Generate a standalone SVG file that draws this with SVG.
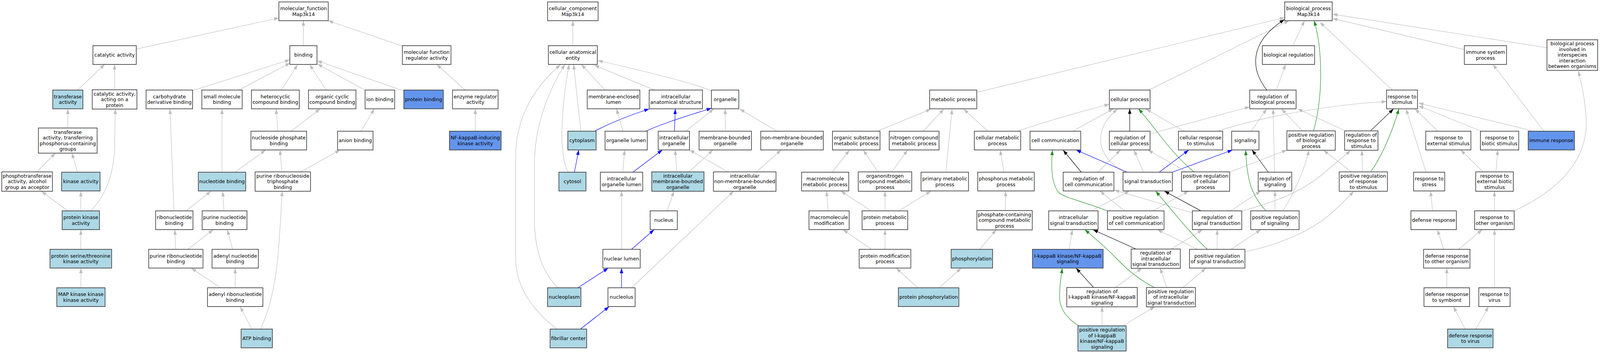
<svg xmlns="http://www.w3.org/2000/svg" width="4245" height="904" viewBox="0 0 4245 904">
<style>
.node rect{fill:#fff;stroke:#333;stroke-width:1.6}
.node.lb rect{fill:#add8e6}
.node.cb rect{fill:#6495ed}
.node text{font-family:"DejaVu Sans","Liberation Sans",sans-serif;font-size:13px;text-anchor:middle;fill:#000}
.e path{fill:none;stroke-width:1.2}
.e .g{stroke:#bebebe;marker-end:url(#ag)}
.e .k{stroke:#000;marker-end:url(#ak)}
.e .b{stroke:#0000ff;marker-end:url(#ab)}
.e .gr{stroke:#228b22;marker-end:url(#agr)}
</style>
<defs>
<marker id="ag" markerUnits="userSpaceOnUse" markerWidth="13" markerHeight="9" refX="13" refY="4.5" orient="auto"><path d="M0,0 L13,4.5 L0,9 z" fill="#bebebe"/></marker>
<marker id="ak" markerUnits="userSpaceOnUse" markerWidth="13" markerHeight="9" refX="13" refY="4.5" orient="auto"><path d="M0,0 L13,4.5 L0,9 z" fill="#000"/></marker>
<marker id="ab" markerUnits="userSpaceOnUse" markerWidth="13" markerHeight="9" refX="13" refY="4.5" orient="auto"><path d="M0,0 L13,4.5 L0,9 z" fill="#0000ff"/></marker>
<marker id="agr" markerUnits="userSpaceOnUse" markerWidth="13" markerHeight="9" refX="13" refY="4.5" orient="auto"><path d="M0,0 L13,4.5 L0,9 z" fill="#228b22"/></marker>
</defs>
<rect x="0" y="0" width="4245" height="904" fill="#fff"/>
<g id="diagram" transform="scale(0.9649,1)">
<g id="connectors" class="e">
<path class="g" d="M361.4,125.7 L740,46"/>
<path class="g" d="M805,117 L805,53"/>
<path class="g" d="M1067.3,118 L871,53"/>
<path class="g" d="M205.7,230.6 L277.8,165"/>
<path class="g" d="M304,230 L304,165"/>
<path class="g" d="M511,232 L769,153"/>
<path class="g" d="M633.7,230.6 L770,161"/>
<path class="g" d="M746,231 L789.5,166"/>
<path class="g" d="M865.3,231 L821.7,165.5"/>
<path class="g" d="M968.6,231 L842.3,164"/>
<path class="g" d="M1071.5,233 L841.4,155.7"/>
<path class="g" d="M1234,231 L1159,165"/>
<path class="g" d="M180,327.5 L180,279"/>
<path class="g" d="M737.7,336 L732.5,279"/>
<path class="g" d="M772.1,336 L849.2,279"/>
<path class="g" d="M957.6,336 L993,279"/>
<path class="g" d="M1261,336 L1261,279"/>
<path class="g" d="M97.3,441 L146.9,392"/>
<path class="g" d="M205.7,441 L190.6,392"/>
<path class="g" d="M589,441 L589,279"/>
<path class="g" d="M623.6,441 L704.8,384"/>
<path class="g" d="M748.2,441 L742.7,384"/>
<path class="g" d="M796.4,441 L902,384"/>
<path class="g" d="M180,540 L110.2,490"/>
<path class="g" d="M214.4,540 L214.4,490"/>
<path class="g" d="M241,540 C275,505 300,460 304,380 L306,279"/>
<path class="g" d="M461.5,540 L451,279"/>
<path class="g" d="M493.6,540 L559.3,490"/>
<path class="g" d="M594.2,540 L591,490"/>
<path class="g" d="M214.4,638.5 L214.4,588.3"/>
<path class="g" d="M466,638.5 L464,588.3"/>
<path class="g" d="M498.2,638.5 L565.7,588.3"/>
<path class="g" d="M617.2,638.5 L603.3,588.3"/>
<path class="g" d="M214.7,737 L214.7,686.7"/>
<path class="g" d="M585.5,737 L507.4,686.7"/>
<path class="g" d="M624,737 L624,686.7"/>
<path class="g" d="M668.3,842.7 L637.3,785.5"/>
<path class="g" d="M691,842.7 C712,800 730,740 738,650 C742,600 746,540 748.5,489.5"/>
<path class="g" d="M1519.8,117 L1519.8,53"/>
<path class="g" d="M1605.3,230.6 L1542.3,165"/>
<path class="g" d="M1736.6,230.6 L1576.8,167"/>
<path class="g" d="M1887.6,233.5 C1850,215 1700,180 1586,155"/>
<path class="g" d="M1541.4,336 L1521.7,165"/>
<path class="g" d="M1508,441 C1482,400 1488,280 1510,165"/>
<path class="g" d="M1480.4,737 C1430,690 1418,620 1418,560 L1418,420 C1418,330 1450,240 1498.7,165"/>
<path class="g" d="M1478,842.7 C1420,800 1368,740 1368,660 L1368,400 C1368,300 1420,220 1487,166"/>
<path class="b" d="M1524,441 L1535.5,384"/>
<path class="b" d="M1579,335 C1620,315 1670,295 1722.3,279"/>
<path class="g" d="M1653,336 L1635.6,279"/>
<path class="b" d="M1713.6,336 C1760,315 1830,295 1887.6,277"/>
<path class="b" d="M1789.4,336 L1791.7,279"/>
<path class="g" d="M1819.2,336 L1893.6,279"/>
<path class="g" d="M1924.2,336 L1924.2,279"/>
<path class="g" d="M2061.2,336 L1962.5,279"/>
<path class="g" d="M1652.5,441 L1657,384"/>
<path class="b" d="M1679.2,441 L1757.2,384"/>
<path class="g" d="M1795.8,441 L1791.2,384"/>
<path class="g" d="M1827,441 L1891.3,384"/>
<path class="g" d="M1932.7,441 L1829.3,384"/>
<path class="g" d="M2006,441 L2072.7,384"/>
<path class="g" d="M1770,540 L1788,489.5"/>
<path class="g" d="M1649,638.5 L1649,489.5"/>
<path class="b" d="M1675.5,638.5 L1735.2,588.3"/>
<path class="b" d="M1533.2,737 L1613.5,686.7"/>
<path class="b" d="M1649,737 L1649,686.7"/>
<path class="g" d="M1675.5,737 L1946.4,489.5"/>
<path class="b" d="M1540,842.7 L1615.8,785.5"/>
<path class="g" d="M2591.8,236.4 L3408.4,45"/>
<path class="g" d="M3048,230.6 L3420,53"/>
<path class="g" d="M3430,117 L3461,53"/>
<path class="k" d="M3361,230.6 C3320,180 3310,110 3408,50"/>
<path class="gr" d="M3485,335 C3510,250 3510,130 3486.5,53"/>
<path class="g" d="M3693.9,230.6 L3502,57"/>
<path class="g" d="M3884.9,126.8 L3535.6,47.3"/>
<path class="g" d="M4104.4,122.2 L3535.6,36.3"/>
<path class="g" d="M3386.4,230.6 L3410.7,165"/>
<path class="g" d="M2846,336 L2953.8,278.6"/>
<path class="g" d="M2699,336 C2780,310 2870,285 2943,267"/>
<path class="k" d="M2997.3,336 L2997.3,278.6"/>
<path class="g" d="M2983,441 C2935,415 2915,380 2921,345 C2926,315 2945,295 2965,279.6"/>
<path class="g" d="M3142,336 L3041,279.6"/>
<path class="gr" d="M3168.7,441 C3130,410 3100,375 3080,350 C3060,325 3040,300 3020.4,278.6"/>
<path class="g" d="M3051,343 L3315.7,273.5"/>
<path class="g" d="M3320,335.7 L3360.7,279"/>
<path class="g" d="M3381.7,441 L3377.7,279"/>
<path class="g" d="M3455,334.3 L3400,279"/>
<path class="g" d="M3567.3,334.3 L3443.3,279"/>
<path class="g" d="M3233,335 C3330,305 3500,270 3678.6,260"/>
<path class="k" d="M3636.8,334.4 L3697.2,279"/>
<path class="gr" d="M3636.8,439.3 C3660,410 3690,350 3711.4,279"/>
<path class="g" d="M3783.6,441 L3730.4,279"/>
<path class="g" d="M3814.5,336 L3754.2,279"/>
<path class="g" d="M3930,336 L3763.7,271"/>
<path class="g" d="M4063,334.4 L3763.7,264"/>
<path class="g" d="M4096.3,336 L3960.9,165"/>
<path class="g" d="M4018,540 C4150,480 4215,400 4208,300 C4205,250 4195,210 4187,181.6"/>
<path class="g" d="M3934.7,440 L3875.3,384"/>
<path class="g" d="M3969,440 L3973.7,384"/>
<path class="g" d="M3965,540 L3965,489.8"/>
<path class="g" d="M3800.8,539.6 L3795.5,489.5"/>
<path class="g" d="M3830.2,638.5 L3813.6,588.3"/>
<path class="g" d="M3869.6,638.5 L3932.4,588.3"/>
<path class="g" d="M3838.5,737 L3838.5,686.7"/>
<path class="g" d="M3965,737 L3965,588.3"/>
<path class="g" d="M3887.2,842.7 L3856.3,785.3"/>
<path class="g" d="M3915.7,842.7 L3949,785.3"/>
<path class="g" d="M3615.5,440.5 L3613,384.7"/>
<path class="g" d="M3585,440 L3511.7,384.7"/>
<path class="g" d="M3303,645 C3400,625 3480,590 3530,548 C3555,527 3575,507 3591.7,490"/>
<path class="g" d="M3295,540.7 C3370,520 3450,495 3510,445 L3583.3,385.5"/>
<path class="k" d="M2868.9,441 L2820.7,384.5"/>
<path class="g" d="M2912.7,441 L2972.7,384"/>
<path class="b" d="M2990.6,441 L2855,384"/>
<path class="b" d="M3075.5,441 L3153.6,384.5"/>
<path class="b" d="M3110.4,441 L3270,384"/>
<path class="g" d="M3034,441 L3009,384.5"/>
<path class="g" d="M3149,440.5 L3046,384.5"/>
<path class="g" d="M3263.3,440.5 L3414.3,384"/>
<path class="k" d="M3365,441 L3321.7,384"/>
<path class="g" d="M2895,540 L2996.7,489.3"/>
<path class="gr" d="M2938.3,540 C2870,515 2820,505 2808,492 C2790,470 2788,430 2792.3,384.5"/>
<path class="g" d="M2983.3,540 L2918.3,489.3"/>
<path class="g" d="M3059.4,539.6 L3153.6,489.5"/>
<path class="k" d="M3185.7,539.6 L3089.3,489.5"/>
<path class="g" d="M3162.8,544.8 L2956.7,486.7"/>
<path class="g" d="M3266,539.3 L3345,489.3"/>
<path class="gr" d="M3358.3,539.3 C3320,500 3308,460 3305,384.5"/>
<path class="g" d="M3382.7,539.3 L3382.7,489.3"/>
<path class="g" d="M3404.3,539.3 C3430,500 3460,440 3472.7,384.7"/>
<path class="g" d="M2836.7,638.5 L2845,588.3"/>
<path class="k" d="M3013.3,637.5 L2900,588.3"/>
<path class="g" d="M3107.7,638 L3190.3,588.3"/>
<path class="gr" d="M3203.2,638.2 C3170,610 3110,540 3066.3,489.5"/>
<path class="g" d="M3229.3,638.5 L3229.3,588.3"/>
<path class="g" d="M3266,638.5 L3345,588.3"/>
<path class="g" d="M3176.5,638.2 L3071,588.3"/>
<path class="k" d="M2902,737 L2855.1,686.7"/>
<path class="g" d="M2958.4,737 L3029.6,686.7"/>
<path class="gr" d="M3064,737 C3020,715 2990,690 2960,660 C2935,635 2905,610 2878.3,588.3"/>
<path class="g" d="M3096,737 L3077.8,686.7"/>
<path class="g" d="M3137.5,737 L3199.5,686.7"/>
<path class="g" d="M2924,834.5 L2924,785.3"/>
<path class="g" d="M2979,834.5 L3064,785.3"/>
<path class="gr" d="M2862,834.5 C2830,815 2811,790 2811,760 C2811,730 2815,710 2818.4,686.7"/>
<path class="g" d="M2327.3,336 L2469.6,279.6"/>
<path class="g" d="M2449,336 L2504,279.6"/>
<path class="g" d="M2509.6,441 L2526,279.6"/>
<path class="g" d="M2621.2,336 L2556.9,279.6"/>
<path class="g" d="M2207.9,441 L2253.8,384.5"/>
<path class="g" d="M2329.6,441 L2290.6,384.5"/>
<path class="g" d="M2365.4,441 L2407.7,384.5"/>
<path class="g" d="M2663.9,441 L2653.3,384.5"/>
<path class="g" d="M2197.3,539.6 L2192.8,489.5"/>
<path class="g" d="M2310.3,539.6 L2230.9,489.5"/>
<path class="g" d="M2348,539.6 L2348,489.8"/>
<path class="g" d="M2385.6,539.6 L2469.6,489.5"/>
<path class="g" d="M2667,539.3 L2668,489.5"/>
<path class="g" d="M2312.6,638.5 L2236.8,588.3"/>
<path class="g" d="M2348,638.5 L2348,588.3"/>
<path class="g" d="M2599.1,638.5 L2643.2,588.3"/>
<path class="g" d="M2435.2,737 L2377.8,686.7"/>
<path class="g" d="M2491.7,737 L2550,686.7"/>
</g>
<g id="n_mf_root" class="node"><rect x="739.9" y="5" width="131" height="48"/><text x="805.4" y="26.25">molecular_function</text><text x="805.4" y="40.75">Map3k14</text></g>
<g id="n_catalytic" class="node"><rect x="246.5" y="117" width="115" height="48"/><text x="304" y="145.5">catalytic activity</text></g>
<g id="n_binding" class="node"><rect x="769" y="117" width="72" height="48"/><text x="805" y="145.5">binding</text></g>
<g id="n_mfreg" class="node"><rect x="1067.5" y="117" width="129" height="48"/><text x="1132" y="138.25">molecular function</text><text x="1132" y="152.75">regulator activity</text></g>
<g id="n_transferase" class="node lb"><rect x="140" y="230.6" width="80" height="48"/><text x="180" y="251.85">transferase</text><text x="180" y="266.35">activity</text></g>
<g id="n_cat_protein" class="node"><rect x="244.75" y="229.85" width="118.5" height="49.5"/><text x="304" y="244.6">catalytic activity,</text><text x="304" y="259.1">acting on a</text><text x="304" y="273.6">protein</text></g>
<g id="n_carbo" class="node"><rect x="387.55" y="230.6" width="123.5" height="48"/><text x="449.3" y="251.85">carbohydrate</text><text x="449.3" y="266.35">derivative binding</text></g>
<g id="n_smallmol" class="node"><rect x="535.5" y="230.6" width="107" height="48"/><text x="589" y="251.85">small molecule</text><text x="589" y="266.35">binding</text></g>
<g id="n_hetero" class="node"><rect x="667.1" y="230.6" width="127" height="48"/><text x="730.6" y="251.85">heterocyclic</text><text x="730.6" y="266.35">compound binding</text></g>
<g id="n_orgcyc" class="node"><rect x="818.4" y="230.6" width="126" height="48"/><text x="881.4" y="251.85">organic cyclic</text><text x="881.4" y="266.35">compound binding</text></g>
<g id="n_ion" class="node"><rect x="968.65" y="230.6" width="78.5" height="48"/><text x="1007.9" y="259.1">ion binding</text></g>
<g id="n_protbind" class="node cb"><rect x="1071.45" y="230.6" width="104.7" height="48"/><text x="1123.8" y="259.1">protein binding</text></g>
<g id="n_enzreg" class="node"><rect x="1200.5" y="230.6" width="121" height="48"/><text x="1261" y="251.85">enzyme regulator</text><text x="1261" y="266.35">activity</text></g>
<g id="n_transfP" class="node"><rect x="101.95" y="327.75" width="155.7" height="64.5"/><text x="179.8" y="342.75">transferase</text><text x="179.8" y="357.25">activity, transferring</text><text x="179.8" y="371.75">phosphorus-containing</text><text x="179.8" y="386.25">groups</text></g>
<g id="n_nucphos" class="node"><rect x="665.8" y="336" width="147.6" height="48"/><text x="739.6" y="357.25">nucleoside phosphate</text><text x="739.6" y="371.75">binding</text></g>
<g id="n_anion" class="node"><rect x="895.7" y="336" width="94" height="48"/><text x="942.7" y="364.5">anion binding</text></g>
<g id="n_nik" class="node cb"><rect x="1192.5" y="336" width="137" height="48"/><text x="1261" y="357.25">NF-kappaB-inducing</text><text x="1261" y="371.75">kinase activity</text></g>
<g id="n_phosphotrans" class="node"><rect x="4.65" y="440.25" width="134.5" height="49.5"/><text x="71.9" y="455">phosphotransferase</text><text x="71.9" y="469.5">activity, alcohol</text><text x="71.9" y="484">group as acceptor</text></g>
<g id="n_kinase" class="node lb"><rect x="163.4" y="441" width="102" height="48"/><text x="214.4" y="469.5">kinase activity</text></g>
<g id="n_nucleotide" class="node lb"><rect x="526.1" y="441" width="125.8" height="48"/><text x="589" y="469.5">nucleotide binding</text></g>
<g id="n_purRNTP" class="node"><rect x="676.9" y="440.25" width="147" height="49.5"/><text x="750.4" y="455">purine ribonucleoside</text><text x="750.4" y="469.5">triphosphate</text><text x="750.4" y="484">binding</text></g>
<g id="n_protkinase" class="node lb"><rect x="164.9" y="540" width="99" height="48"/><text x="214.4" y="561.25">protein kinase</text><text x="214.4" y="575.75">activity</text></g>
<g id="n_ribonuc" class="node"><rect x="412.9" y="540" width="99" height="48"/><text x="462.4" y="561.25">ribonucleotide</text><text x="462.4" y="575.75">binding</text></g>
<g id="n_purnuc" class="node"><rect x="536.3" y="540" width="119" height="48"/><text x="595.8" y="561.25">purine nucleotide</text><text x="595.8" y="575.75">binding</text></g>
<g id="n_serthr" class="node lb"><rect x="132.65" y="638.5" width="163.5" height="48"/><text x="214.4" y="659.75">protein serine/threonine</text><text x="214.4" y="674.25">kinase activity</text></g>
<g id="n_purribo" class="node"><rect x="394.5" y="638.5" width="144" height="48"/><text x="466.5" y="659.75">purine ribonucleotide</text><text x="466.5" y="674.25">binding</text></g>
<g id="n_adenylnuc" class="node"><rect x="562.5" y="638.5" width="123" height="48"/><text x="624" y="659.75">adenyl nucleotide</text><text x="624" y="674.25">binding</text></g>
<g id="n_map3k" class="node lb"><rect x="150.7" y="737" width="128" height="48"/><text x="214.7" y="758.25">MAP kinase kinase</text><text x="214.7" y="772.75">kinase activity</text></g>
<g id="n_adenylribo" class="node"><rect x="550.5" y="737" width="147" height="48"/><text x="624" y="758.25">adenyl ribonucleotide</text><text x="624" y="772.75">binding</text></g>
<g id="n_atp" class="node lb"><rect x="639.7" y="842.7" width="83" height="48"/><text x="681.2" y="871.2">ATP binding</text></g>
<g id="n_cc_root" class="node"><rect x="1452.8" y="5" width="134" height="48"/><text x="1519.8" y="26.25">cellular_component</text><text x="1519.8" y="40.75">Map3k14</text></g>
<g id="n_cae" class="node"><rect x="1454.8" y="117" width="130" height="48"/><text x="1519.8" y="138.25">cellular anatomical</text><text x="1519.8" y="152.75">entity</text></g>
<g id="n_mel" class="node"><rect x="1558" y="230.6" width="139.6" height="48"/><text x="1627.8" y="251.85">membrane-enclosed</text><text x="1627.8" y="266.35">lumen</text></g>
<g id="n_ias" class="node"><rect x="1722.3" y="230.6" width="141.4" height="48"/><text x="1793" y="251.85">intracellular</text><text x="1793" y="266.35">anatomical structure</text></g>
<g id="n_organelle" class="node"><rect x="1887.6" y="230.6" width="72.6" height="48"/><text x="1923.9" y="259.1">organelle</text></g>
<g id="n_cytoplasm" class="node lb"><rect x="1506.5" y="336" width="75" height="48"/><text x="1544" y="364.5">cytoplasm</text></g>
<g id="n_orglumen" class="node"><rect x="1605.3" y="336" width="112" height="48"/><text x="1661.3" y="364.5">organelle lumen</text></g>
<g id="n_intorg" class="node"><rect x="1746.3" y="336" width="83" height="48"/><text x="1787.8" y="357.25">intracellular</text><text x="1787.8" y="371.75">organelle</text></g>
<g id="n_mbo" class="node"><rect x="1854.7" y="336" width="139" height="48"/><text x="1924.2" y="357.25">membrane-bounded</text><text x="1924.2" y="371.75">organelle</text></g>
<g id="n_nmbo" class="node"><rect x="2018.3" y="336" width="166" height="48"/><text x="2101.3" y="357.25">non-membrane-bounded</text><text x="2101.3" y="371.75">organelle</text></g>
<g id="n_cytosol" class="node lb"><rect x="1482.7" y="441" width="72" height="48"/><text x="1518.7" y="469.5">cytosol</text></g>
<g id="n_intorglumen" class="node"><rect x="1592.75" y="441" width="112.5" height="48"/><text x="1649" y="462.25">intracellular</text><text x="1649" y="476.75">organelle lumen</text></g>
<g id="n_imbo" class="node lb"><rect x="1729.15" y="440.25" width="138.7" height="49.5"/><text x="1798.5" y="455">intracellular</text><text x="1798.5" y="469.5">membrane-bounded</text><text x="1798.5" y="484">organelle</text></g>
<g id="n_inmbo" class="node"><rect x="1892.8" y="440.25" width="166" height="49.5"/><text x="1975.8" y="455">intracellular</text><text x="1975.8" y="469.5">non-membrane-bounded</text><text x="1975.8" y="484">organelle</text></g>
<g id="n_nucleus" class="node"><rect x="1725" y="540" width="72" height="48"/><text x="1761" y="568.5">nucleus</text></g>
<g id="n_nuclumen" class="node"><rect x="1599.5" y="638.5" width="99" height="48"/><text x="1649" y="667">nuclear lumen</text></g>
<g id="n_nucleoplasm" class="node lb"><rect x="1452.7" y="737" width="88.6" height="48"/><text x="1497" y="765.5">nucleoplasm</text></g>
<g id="n_nucleolus" class="node"><rect x="1613" y="737" width="72" height="48"/><text x="1649" y="765.5">nucleolus</text></g>
<g id="n_fibrillar" class="node lb"><rect x="1459.5" y="842.7" width="97" height="48"/><text x="1508" y="871.2">fibrillar center</text></g>
<g id="n_bp_root" class="node"><rect x="3408.5" y="5" width="126" height="48"/><text x="3471.5" y="26.25">biological_process</text><text x="3471.5" y="40.75">Map3k14</text></g>
<g id="n_bioreg" class="node"><rect x="3349.15" y="117" width="138.7" height="48"/><text x="3418.5" y="145.5">biological regulation</text></g>
<g id="n_immsys" class="node"><rect x="3885" y="117" width="112" height="48"/><text x="3941" y="138.25">immune system</text><text x="3941" y="152.75">process</text></g>
<g id="n_interspecies" class="node"><rect x="4104.35" y="101.75" width="134.5" height="78.5"/><text x="4171.6" y="116.5">biological process</text><text x="4171.6" y="131">involved in</text><text x="4171.6" y="145.5">interspecies</text><text x="4171.6" y="160">interaction</text><text x="4171.6" y="174.5">between organisms</text></g>
<g id="n_metabolic" class="node"><rect x="2466.5" y="230.6" width="125" height="48"/><text x="2529" y="259.1">metabolic process</text></g>
<g id="n_cellproc" class="node"><rect x="2943.3" y="230.6" width="108" height="48"/><text x="2997.3" y="259.1">cellular process</text></g>
<g id="n_regbio" class="node"><rect x="3315.7" y="230.6" width="123" height="48"/><text x="3377.2" y="251.85">regulation of</text><text x="3377.2" y="266.35">biological process</text></g>
<g id="n_respstim" class="node"><rect x="3678.7" y="230.6" width="82" height="48"/><text x="3719.7" y="251.85">response to</text><text x="3719.7" y="266.35">stimulus</text></g>
<g id="n_orgsub" class="node"><rect x="2208.7" y="336" width="126" height="48"/><text x="2271.7" y="357.25">organic substance</text><text x="2271.7" y="371.75">metabolic process</text></g>
<g id="n_nitrogen" class="node"><rect x="2359.3" y="336" width="132" height="48"/><text x="2425.3" y="357.25">nitrogen compound</text><text x="2425.3" y="371.75">metabolic process</text></g>
<g id="n_cellmet" class="node"><rect x="2585" y="336" width="123" height="48"/><text x="2646.5" y="357.25">cellular metabolic</text><text x="2646.5" y="371.75">process</text></g>
<g id="n_cellcomm" class="node"><rect x="2732.7" y="336" width="134.6" height="48"/><text x="2800" y="364.5">cell communication</text></g>
<g id="n_regcell" class="node"><rect x="2943.3" y="336" width="108" height="48"/><text x="2997.3" y="357.25">regulation of</text><text x="2997.3" y="371.75">cellular process</text></g>
<g id="n_cellresp" class="node"><rect x="3126.45" y="336" width="117.5" height="48"/><text x="3185.2" y="357.25">cellular response</text><text x="3185.2" y="371.75">to stimulus</text></g>
<g id="n_signaling" class="node"><rect x="3267.85" y="336" width="72.3" height="48"/><text x="3304" y="364.5">signaling</text></g>
<g id="n_posregbio" class="node"><rect x="3414.3" y="335.25" width="128.4" height="49.5"/><text x="3478.5" y="350">positive regulation</text><text x="3478.5" y="364.5">of biological</text><text x="3478.5" y="379">process</text></g>
<g id="n_regresp" class="node"><rect x="3567.5" y="335.25" width="88.4" height="49.5"/><text x="3611.7" y="350">regulation of</text><text x="3611.7" y="364.5">response to</text><text x="3611.7" y="379">stimulus</text></g>
<g id="n_respext" class="node"><rect x="3782.75" y="336" width="119.7" height="48"/><text x="3842.6" y="357.25">response to</text><text x="3842.6" y="371.75">external stimulus</text></g>
<g id="n_respbiotic" class="node"><rect x="3927.65" y="336" width="101.7" height="48"/><text x="3978.5" y="357.25">response to</text><text x="3978.5" y="371.75">biotic stimulus</text></g>
<g id="n_immresp" class="node cb"><rect x="4054.5" y="336" width="122.6" height="48"/><text x="4115.8" y="364.5">immune response</text></g>
<g id="n_macromet" class="node"><rect x="2126.8" y="441" width="125" height="48"/><text x="2189.3" y="462.25">macromolecule</text><text x="2189.3" y="476.75">metabolic process</text></g>
<g id="n_orgN" class="node"><rect x="2277" y="440.25" width="142" height="49.5"/><text x="2348" y="455">organonitrogen</text><text x="2348" y="469.5">compound metabolic</text><text x="2348" y="484">process</text></g>
<g id="n_primary" class="node"><rect x="2443.6" y="441" width="126" height="48"/><text x="2506.6" y="462.25">primary metabolic</text><text x="2506.6" y="476.75">process</text></g>
<g id="n_phosphorus" class="node"><rect x="2594" y="441" width="150" height="48"/><text x="2669" y="462.25">phosphorus metabolic</text><text x="2669" y="476.75">process</text></g>
<g id="n_regcellcomm" class="node"><rect x="2820.7" y="441" width="134.6" height="48"/><text x="2888" y="462.25">regulation of</text><text x="2888" y="476.75">cell communication</text></g>
<g id="n_sigtrans" class="node"><rect x="2979.5" y="441" width="131" height="48"/><text x="3045" y="469.5">signal transduction</text></g>
<g id="n_posregcell" class="node"><rect x="3134.65" y="440.25" width="127.7" height="49.5"/><text x="3198.5" y="455">positive regulation</text><text x="3198.5" y="469.5">of cellular</text><text x="3198.5" y="484">process</text></g>
<g id="n_regsig" class="node"><rect x="3338.2" y="441" width="89" height="48"/><text x="3382.7" y="462.25">regulation of</text><text x="3382.7" y="476.75">signaling</text></g>
<g id="n_posregresp" class="node"><rect x="3553.1" y="440.25" width="127.8" height="49.5"/><text x="3617" y="455">positive regulation</text><text x="3617" y="469.5">of response</text><text x="3617" y="484">to stimulus</text></g>
<g id="n_stress" class="node"><rect x="3750.35" y="441" width="82.7" height="48"/><text x="3791.7" y="462.25">response to</text><text x="3791.7" y="476.75">stress</text></g>
<g id="n_respextbio" class="node"><rect x="3915.2" y="440.25" width="99.8" height="49.5"/><text x="3965.1" y="455">response to</text><text x="3965.1" y="469.5">external biotic</text><text x="3965.1" y="484">stimulus</text></g>
<g id="n_macromod" class="node"><rect x="2146.35" y="540" width="106.5" height="48"/><text x="2199.6" y="561.25">macromolecule</text><text x="2199.6" y="575.75">modification</text></g>
<g id="n_protmet" class="node"><rect x="2287.2" y="540" width="121" height="48"/><text x="2347.7" y="561.25">protein metabolic</text><text x="2347.7" y="575.75">process</text></g>
<g id="n_phosphate" class="node"><rect x="2591.7" y="539.25" width="147" height="49.5"/><text x="2665.2" y="554">phosphate-containing</text><text x="2665.2" y="568.5">compound metabolic</text><text x="2665.2" y="583">process</text></g>
<g id="n_intrasig" class="node"><rect x="2782.3" y="540" width="131" height="48"/><text x="2847.8" y="561.25">intracellular</text><text x="2847.8" y="575.75">signal transduction</text></g>
<g id="n_posregcellcomm" class="node"><rect x="2938.3" y="540" width="150" height="48"/><text x="3013.3" y="561.25">positive regulation</text><text x="3013.3" y="575.75">of cell communication</text></g>
<g id="n_regsigtrans" class="node"><rect x="3163.5" y="540" width="131" height="48"/><text x="3229" y="561.25">regulation of</text><text x="3229" y="575.75">signal transduction</text></g>
<g id="n_posregsig" class="node"><rect x="3318.35" y="540" width="128.3" height="48"/><text x="3382.5" y="561.25">positive regulation</text><text x="3382.5" y="575.75">of signaling</text></g>
<g id="n_defense" class="node"><rect x="3743.25" y="540" width="120.7" height="48"/><text x="3803.6" y="568.5">defense response</text></g>
<g id="n_respother" class="node"><rect x="3912.4" y="540" width="105" height="48"/><text x="3964.9" y="561.25">response to</text><text x="3964.9" y="575.75">other organism</text></g>
<g id="n_protmod" class="node"><rect x="2279.5" y="638.5" width="137" height="48"/><text x="2348" y="659.75">protein modification</text><text x="2348" y="674.25">process</text></g>
<g id="n_phosphorylation" class="node lb"><rect x="2523.5" y="638.5" width="110" height="48"/><text x="2578.5" y="667">phosphorylation</text></g>
<g id="n_ikk" class="node cb"><rect x="2739.3" y="638.5" width="187.4" height="48"/><text x="2833" y="659.75">I-kappaB kinase/NF-kappaB</text><text x="2833" y="674.25">signaling</text></g>
<g id="n_regintra" class="node"><rect x="3001.1" y="637.75" width="130.4" height="49.5"/><text x="3066.3" y="652.5">regulation of</text><text x="3066.3" y="667">intracellular</text><text x="3066.3" y="681.5">signal transduction</text></g>
<g id="n_posregsigtrans" class="node"><rect x="3155.9" y="638.5" width="147" height="48"/><text x="3229.4" y="659.75">positive regulation</text><text x="3229.4" y="674.25">of signal transduction</text></g>
<g id="n_defother" class="node"><rect x="3777" y="638.5" width="123" height="48"/><text x="3838.5" y="659.75">defense response</text><text x="3838.5" y="674.25">to other organism</text></g>
<g id="n_protphos" class="node lb"><rect x="2383.35" y="737" width="160.7" height="48"/><text x="2463.7" y="765.5">protein phosphorylation</text></g>
<g id="n_regikk" class="node"><rect x="2830.3" y="736.25" width="187" height="49.5"/><text x="2923.8" y="751">regulation of</text><text x="2923.8" y="765.5">I-kappaB kinase/NF-kappaB</text><text x="2923.8" y="780">signaling</text></g>
<g id="n_posregintra" class="node"><rect x="3041.5" y="736.25" width="130" height="49.5"/><text x="3106.5" y="751">positive regulation</text><text x="3106.5" y="765.5">of intracellular</text><text x="3106.5" y="780">signal transduction</text></g>
<g id="n_defsymb" class="node"><rect x="3778" y="737" width="121" height="48"/><text x="3838.5" y="758.25">defense response</text><text x="3838.5" y="772.75">to symbiont</text></g>
<g id="n_respvirus" class="node"><rect x="3923.4" y="737" width="83" height="48"/><text x="3964.9" y="758.25">response to</text><text x="3964.9" y="772.75">virus</text></g>
<g id="n_posregikk" class="node lb"><rect x="2859.8" y="834.45" width="128" height="64.5"/><text x="2923.8" y="849.45">positive regulation</text><text x="2923.8" y="863.95">of I-kappaB</text><text x="2923.8" y="878.45">kinase/NF-kappaB</text><text x="2923.8" y="892.95">signaling</text></g>
<g id="n_defvirus" class="node lb"><rect x="3840.7" y="842.7" width="120.6" height="48"/><text x="3901" y="863.95">defense response</text><text x="3901" y="878.45">to virus</text></g>
</g>
</svg>
